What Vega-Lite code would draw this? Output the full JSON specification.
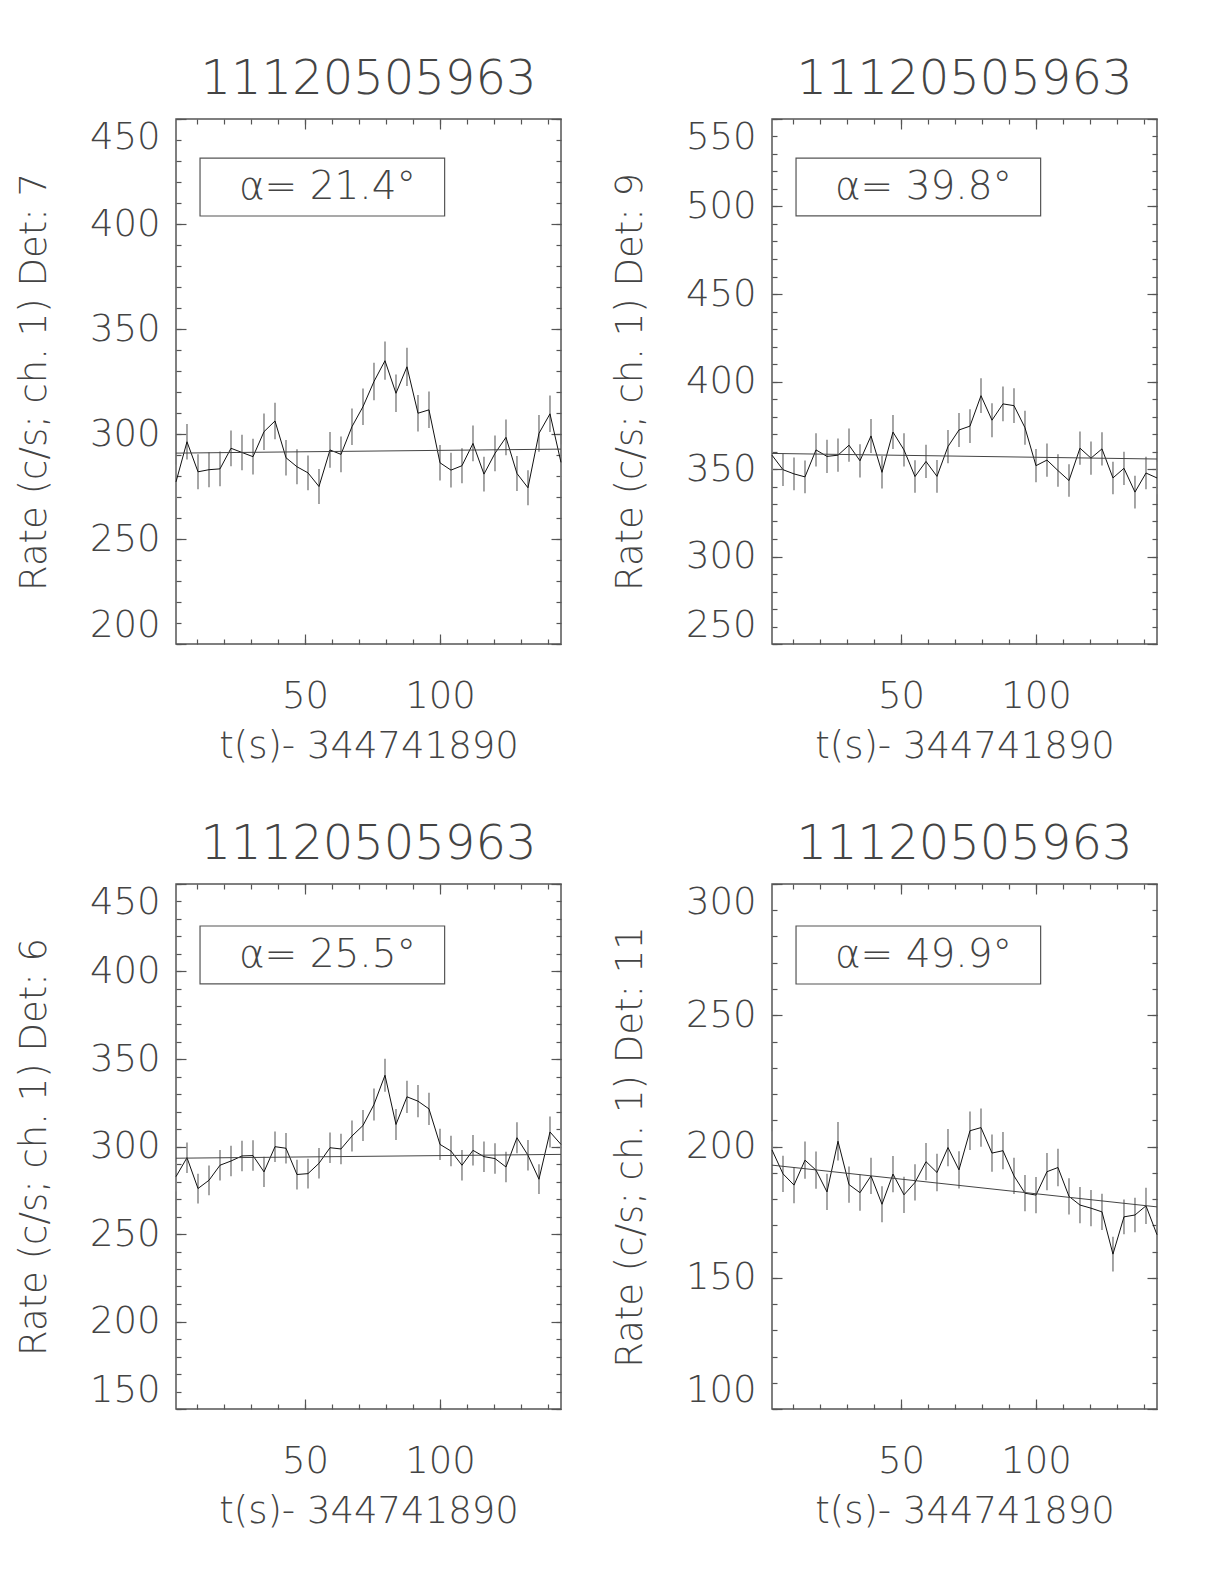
{
"$schema": "https://vega.github.io/schema/vega-lite/v6.json",
"padding": {"left": 14, "top": 55, "right": 10, "bottom": 10},
"background": "white",
"columns": 2,
"spacing": {"row": 240, "column": 211},
"bounds": "flush",
"datasets": {
"d1": [{"t":2.2,"r":277.2,"e":8.3},{"t":6.27,"r":296.3,"e":8.5},{"t":10.35,"r":282.0,"e":8.3},{"t":14.42,"r":283.0,"e":8.3},{"t":18.5,"r":283.4,"e":8.3},{"t":22.57,"r":293.2,"e":8.5},{"t":26.64,"r":291.2,"e":8.5},{"t":30.72,"r":289.2,"e":8.5},{"t":34.79,"r":301.1,"e":8.7},{"t":38.87,"r":306.2,"e":8.7},{"t":42.94,"r":288.7,"e":8.5},{"t":47.01,"r":284.4,"e":8.3},{"t":51.09,"r":281.5,"e":8.3},{"t":55.16,"r":275.0,"e":8.3},{"t":59.24,"r":292.4,"e":8.5},{"t":63.31,"r":290.3,"e":8.5},{"t":67.38,"r":303.5,"e":8.7},{"t":71.46,"r":313.0,"e":8.7},{"t":75.53,"r":325.0,"e":8.9},{"t":79.61,"r":334.9,"e":9.1},{"t":83.68,"r":319.4,"e":8.9},{"t":87.75,"r":332.0,"e":9.1},{"t":91.83,"r":309.9,"e":8.7},{"t":95.9,"r":311.5,"e":8.7},{"t":99.98,"r":286.3,"e":8.5},{"t":104.05,"r":282.8,"e":8.3},{"t":108.12,"r":284.9,"e":8.3},{"t":112.2,"r":295.5,"e":8.5},{"t":116.27,"r":280.9,"e":8.3},{"t":120.35,"r":290.8,"e":8.5},{"t":124.42,"r":298.4,"e":8.5},{"t":128.49,"r":281.2,"e":8.3},{"t":132.57,"r":274.4,"e":8.3},{"t":136.64,"r":300.3,"e":8.7},{"t":140.72,"r":309.6,"e":8.7},{"t":144.79,"r":286.5,"e":8.5}],
"d2": [{"t":2.2,"r":357.9,"e":9.5},{"t":6.27,"r":349.6,"e":9.3},{"t":10.35,"r":347.2,"e":9.3},{"t":14.42,"r":345.5,"e":9.3},{"t":18.5,"r":360.9,"e":9.5},{"t":22.57,"r":357.2,"e":9.5},{"t":26.64,"r":357.9,"e":9.5},{"t":30.72,"r":363.6,"e":9.5},{"t":34.79,"r":354.7,"e":9.5},{"t":38.87,"r":368.9,"e":9.7},{"t":42.94,"r":348.1,"e":9.3},{"t":47.01,"r":371.1,"e":9.7},{"t":51.09,"r":360.9,"e":9.5},{"t":55.16,"r":345.7,"e":9.3},{"t":59.24,"r":354.3,"e":9.5},{"t":63.31,"r":345.8,"e":9.3},{"t":67.38,"r":362.8,"e":9.5},{"t":71.46,"r":372.3,"e":9.7},{"t":75.53,"r":374.5,"e":9.7},{"t":79.61,"r":391.9,"e":9.9},{"t":83.68,"r":377.9,"e":9.7},{"t":87.75,"r":387.2,"e":9.9},{"t":91.83,"r":386.2,"e":9.9},{"t":95.9,"r":373.6,"e":9.7},{"t":99.98,"r":351.9,"e":9.5},{"t":104.05,"r":355.1,"e":9.5},{"t":108.12,"r":349.1,"e":9.3},{"t":112.2,"r":343.4,"e":9.3},{"t":116.27,"r":361.9,"e":9.5},{"t":120.35,"r":356.2,"e":9.5},{"t":124.42,"r":361.5,"e":9.5},{"t":128.49,"r":344.9,"e":9.3},{"t":132.57,"r":350.4,"e":9.5},{"t":136.64,"r":336.8,"e":9.3},{"t":140.72,"r":347.7,"e":9.3},{"t":144.79,"r":344.9,"e":9.3}],
"d3": [{"t":2.2,"r":282.8,"e":8.5},{"t":6.27,"r":293.6,"e":8.7},{"t":10.35,"r":276.0,"e":8.5},{"t":14.42,"r":280.7,"e":8.5},{"t":18.5,"r":289.3,"e":8.7},{"t":22.57,"r":291.7,"e":8.7},{"t":26.64,"r":294.6,"e":8.7},{"t":30.72,"r":294.8,"e":8.7},{"t":34.79,"r":285.5,"e":8.7},{"t":38.87,"r":299.9,"e":8.7},{"t":42.94,"r":299.0,"e":8.7},{"t":47.01,"r":284.0,"e":8.5},{"t":51.09,"r":284.5,"e":8.5},{"t":55.16,"r":290.4,"e":8.7},{"t":59.24,"r":299.3,"e":8.7},{"t":63.31,"r":298.6,"e":8.7},{"t":67.38,"r":306.0,"e":8.9},{"t":71.46,"r":312.0,"e":8.9},{"t":75.53,"r":324.0,"e":9.2},{"t":79.61,"r":340.7,"e":9.4},{"t":83.68,"r":312.6,"e":8.9},{"t":87.75,"r":328.4,"e":9.2},{"t":91.83,"r":325.9,"e":9.2},{"t":95.9,"r":321.5,"e":9.2},{"t":99.98,"r":301.2,"e":8.9},{"t":104.05,"r":297.4,"e":8.7},{"t":108.12,"r":289.3,"e":8.7},{"t":112.2,"r":297.8,"e":8.7},{"t":116.27,"r":294.2,"e":8.7},{"t":120.35,"r":293.1,"e":8.7},{"t":124.42,"r":288.3,"e":8.7},{"t":128.49,"r":305.0,"e":8.9},{"t":132.57,"r":295.0,"e":8.7},{"t":136.64,"r":281.3,"e":8.5},{"t":140.72,"r":308.3,"e":8.9},{"t":144.79,"r":301.2,"e":8.9}],
"d4": [{"t":2.2,"r":198.7,"e":7.1},{"t":6.27,"r":189.6,"e":6.9},{"t":10.35,"r":185.3,"e":6.9},{"t":14.42,"r":194.8,"e":7.1},{"t":18.5,"r":191.0,"e":7.1},{"t":22.57,"r":182.7,"e":6.9},{"t":26.64,"r":202.0,"e":7.3},{"t":30.72,"r":185.5,"e":6.9},{"t":34.79,"r":182.4,"e":6.9},{"t":38.87,"r":188.8,"e":6.9},{"t":42.94,"r":178.0,"e":6.9},{"t":47.01,"r":189.5,"e":6.9},{"t":51.09,"r":181.6,"e":6.9},{"t":55.16,"r":186.3,"e":6.9},{"t":59.24,"r":194.2,"e":7.1},{"t":63.31,"r":190.1,"e":7.1},{"t":67.38,"r":199.6,"e":7.1},{"t":71.46,"r":191.1,"e":7.1},{"t":75.53,"r":206.0,"e":7.3},{"t":79.61,"r":207.2,"e":7.3},{"t":83.68,"r":197.5,"e":7.1},{"t":87.75,"r":198.4,"e":7.1},{"t":91.83,"r":188.8,"e":6.9},{"t":95.9,"r":182.2,"e":6.9},{"t":99.98,"r":181.5,"e":6.9},{"t":104.05,"r":190.4,"e":7.1},{"t":108.12,"r":192.0,"e":7.1},{"t":112.2,"r":181.0,"e":6.9},{"t":116.27,"r":177.7,"e":6.9},{"t":120.35,"r":176.5,"e":6.9},{"t":124.42,"r":175.1,"e":6.9},{"t":128.49,"r":159.0,"e":6.6},{"t":132.57,"r":173.2,"e":6.6},{"t":136.64,"r":173.9,"e":6.6},{"t":140.72,"r":177.4,"e":6.9},{"t":144.79,"r":166.4,"e":6.6}],
"f1": [{"t":2.2,"r":290.9},{"t":144.8,"r":292.8}],
"f2": [{"t":2.2,"r":358.9},{"t":144.8,"r":355.7}],
"f3": [{"t":2.2,"r":293.3},{"t":144.8,"r":295.5}],
"f4": [{"t":2.2,"r":192.9},{"t":144.8,"r":177.0}],
"a1": [{"label":"α= 21.4°"}],
"a2": [{"label":"α= 39.8°"}],
"a3": [{"label":"α= 25.5°"}],
"a4": [{"label":"α= 49.9°"}]
},
"concat": [
{
"width": 385, "height": 525,
"title": "11120505963",
"resolve": {"axis": {"x": "independent", "y": "independent"}},
"layer": [
{"data": {"name": "d1"}, "mark": {"type": "errorbar", "color": "#888", "thickness": 1.5},
 "encoding": {"x": {"field": "t", "type": "quantitative", "scale": {"domain": [2.2, 144.8], "nice": false, "zero": false}, "axis": null},
  "y": {"field": "r", "type": "quantitative", "scale": {"domain": [200, 450], "nice": false, "zero": false}, "axis": null},
  "yError": {"field": "e"}}},
{"data": {"name": "d1"}, "mark": {"type": "line", "color": "#111", "strokeWidth": 1},
 "encoding": {"x": {"field": "t", "type": "quantitative", "scale": {"domain": [2.2, 144.8], "nice": false, "zero": false}, "axis": {"orient": "bottom", "values": [50, 100], "tickSize": -10, "labelPadding": 44, "title": "t(s)- 344741890", "titlePadding": 14}},
  "y": {"field": "r", "type": "quantitative", "scale": {"domain": [200, 450], "nice": false, "zero": false}, "axis": {"orient": "left", "values": [200, 250, 300, 350, 400, 450], "tickSize": -10, "labelPadding": 26, "labelFlush": true, "title": "Rate (c/s; ch. 1) Det: 7", "titlePadding": 36}}}},
{"data": {"name": "f1"}, "mark": {"type": "line", "color": "#444", "strokeWidth": 1},
 "encoding": {"x": {"field": "t", "type": "quantitative", "scale": {"domain": [2.2, 144.8], "nice": false, "zero": false}, "axis": {"orient": "top", "values": [50, 100], "tickSize": -10, "labels": false, "title": null}},
  "y": {"field": "r", "type": "quantitative", "scale": {"domain": [200, 450], "nice": false, "zero": false}, "axis": {"orient": "right", "values": [200, 250, 300, 350, 400, 450], "tickSize": -10, "labels": false, "title": null}}}},
{"data": {"name": "a1"}, "mark": {"type": "rect", "filled": false, "stroke": "#555", "strokeWidth": 1.2},
 "encoding": {"x": {"datum": 11.1, "type": "quantitative", "scale": {"domain": [2.2, 144.8], "nice": false, "zero": false}, "axis": {"orient": "bottom", "values": [10,20,30,40,50,60,70,80,90,100,110,120,130,140], "tickSize": -5, "labels": false, "title": null}},
  "x2": {"datum": 101.7},
  "y": {"datum": 403.8, "type": "quantitative", "scale": {"domain": [200, 450], "nice": false, "zero": false}, "axis": {"orient": "left", "values": [200,210,220,230,240,250,260,270,280,290,300,310,320,330,340,350,360,370,380,390,400,410,420,430,440,450], "tickSize": -5, "labels": false, "title": null}},
  "y2": {"datum": 431.4}}},
{"data": {"name": "a1"}, "mark": {"type": "text", "fontSize": 39, "font": "DejaVu Sans", "fontWeight": 200, "color": "#444", "align": "center", "baseline": "middle"},
 "encoding": {"x": {"datum": 58.3, "type": "quantitative", "scale": {"domain": [2.2, 144.8], "nice": false, "zero": false}, "axis": {"orient": "top", "values": [10,20,30,40,50,60,70,80,90,100,110,120,130,140], "tickSize": -5, "labels": false, "title": null}},
  "y": {"datum": 417.6, "type": "quantitative", "scale": {"domain": [200, 450], "nice": false, "zero": false}, "axis": {"orient": "right", "values": [200,210,220,230,240,250,260,270,280,290,300,310,320,330,340,350,360,370,380,390,400,410,420,430,440,450], "tickSize": -5, "labels": false, "title": null}},
  "text": {"field": "label"}}}
]
},
{
"width": 385, "height": 525,
"title": "11120505963",
"resolve": {"axis": {"x": "independent", "y": "independent"}},
"layer": [
{"data": {"name": "d2"}, "mark": {"type": "errorbar", "color": "#888", "thickness": 1.5},
 "encoding": {"x": {"field": "t", "type": "quantitative", "scale": {"domain": [2.2, 144.8], "nice": false, "zero": false}, "axis": null},
  "y": {"field": "r", "type": "quantitative", "scale": {"domain": [250, 550], "nice": false, "zero": false}, "axis": null},
  "yError": {"field": "e"}}},
{"data": {"name": "d2"}, "mark": {"type": "line", "color": "#111", "strokeWidth": 1},
 "encoding": {"x": {"field": "t", "type": "quantitative", "scale": {"domain": [2.2, 144.8], "nice": false, "zero": false}, "axis": {"orient": "bottom", "values": [50, 100], "tickSize": -10, "labelPadding": 44, "title": "t(s)- 344741890", "titlePadding": 14}},
  "y": {"field": "r", "type": "quantitative", "scale": {"domain": [250, 550], "nice": false, "zero": false}, "axis": {"orient": "left", "values": [250, 300, 350, 400, 450, 500, 550], "tickSize": -10, "labelPadding": 26, "labelFlush": true, "title": "Rate (c/s; ch. 1) Det: 9", "titlePadding": 36}}}},
{"data": {"name": "f2"}, "mark": {"type": "line", "color": "#444", "strokeWidth": 1},
 "encoding": {"x": {"field": "t", "type": "quantitative", "scale": {"domain": [2.2, 144.8], "nice": false, "zero": false}, "axis": {"orient": "top", "values": [50, 100], "tickSize": -10, "labels": false, "title": null}},
  "y": {"field": "r", "type": "quantitative", "scale": {"domain": [250, 550], "nice": false, "zero": false}, "axis": {"orient": "right", "values": [250, 300, 350, 400, 450, 500, 550], "tickSize": -10, "labels": false, "title": null}}}},
{"data": {"name": "a2"}, "mark": {"type": "rect", "filled": false, "stroke": "#555", "strokeWidth": 1.2},
 "encoding": {"x": {"datum": 11.1, "type": "quantitative", "scale": {"domain": [2.2, 144.8], "nice": false, "zero": false}, "axis": {"orient": "bottom", "values": [10,20,30,40,50,60,70,80,90,100,110,120,130,140], "tickSize": -5, "labels": false, "title": null}},
  "x2": {"datum": 101.7},
  "y": {"datum": 494.6, "type": "quantitative", "scale": {"domain": [250, 550], "nice": false, "zero": false}, "axis": {"orient": "left", "values": [250,260,270,280,290,300,310,320,330,340,350,360,370,380,390,400,410,420,430,440,450,460,470,480,490,500,510,520,530,540,550], "tickSize": -5, "labels": false, "title": null}},
  "y2": {"datum": 527.7}}},
{"data": {"name": "a2"}, "mark": {"type": "text", "fontSize": 39, "font": "DejaVu Sans", "fontWeight": 200, "color": "#444", "align": "center", "baseline": "middle"},
 "encoding": {"x": {"datum": 58.3, "type": "quantitative", "scale": {"domain": [2.2, 144.8], "nice": false, "zero": false}, "axis": {"orient": "top", "values": [10,20,30,40,50,60,70,80,90,100,110,120,130,140], "tickSize": -5, "labels": false, "title": null}},
  "y": {"datum": 511.2, "type": "quantitative", "scale": {"domain": [250, 550], "nice": false, "zero": false}, "axis": {"orient": "right", "values": [250,260,270,280,290,300,310,320,330,340,350,360,370,380,390,400,410,420,430,440,450,460,470,480,490,500,510,520,530,540,550], "tickSize": -5, "labels": false, "title": null}},
  "text": {"field": "label"}}}
]
},
{
"width": 385, "height": 525,
"title": "11120505963",
"resolve": {"axis": {"x": "independent", "y": "independent"}},
"layer": [
{"data": {"name": "d3"}, "mark": {"type": "errorbar", "color": "#888", "thickness": 1.5},
 "encoding": {"x": {"field": "t", "type": "quantitative", "scale": {"domain": [2.2, 144.8], "nice": false, "zero": false}, "axis": null},
  "y": {"field": "r", "type": "quantitative", "scale": {"domain": [150, 450], "nice": false, "zero": false}, "axis": null},
  "yError": {"field": "e"}}},
{"data": {"name": "d3"}, "mark": {"type": "line", "color": "#111", "strokeWidth": 1},
 "encoding": {"x": {"field": "t", "type": "quantitative", "scale": {"domain": [2.2, 144.8], "nice": false, "zero": false}, "axis": {"orient": "bottom", "values": [50, 100], "tickSize": -10, "labelPadding": 44, "title": "t(s)- 344741890", "titlePadding": 14}},
  "y": {"field": "r", "type": "quantitative", "scale": {"domain": [150, 450], "nice": false, "zero": false}, "axis": {"orient": "left", "values": [150, 200, 250, 300, 350, 400, 450], "tickSize": -10, "labelPadding": 26, "labelFlush": true, "title": "Rate (c/s; ch. 1) Det: 6", "titlePadding": 36}}}},
{"data": {"name": "f3"}, "mark": {"type": "line", "color": "#444", "strokeWidth": 1},
 "encoding": {"x": {"field": "t", "type": "quantitative", "scale": {"domain": [2.2, 144.8], "nice": false, "zero": false}, "axis": {"orient": "top", "values": [50, 100], "tickSize": -10, "labels": false, "title": null}},
  "y": {"field": "r", "type": "quantitative", "scale": {"domain": [150, 450], "nice": false, "zero": false}, "axis": {"orient": "right", "values": [150, 200, 250, 300, 350, 400, 450], "tickSize": -10, "labels": false, "title": null}}}},
{"data": {"name": "a3"}, "mark": {"type": "rect", "filled": false, "stroke": "#555", "strokeWidth": 1.2},
 "encoding": {"x": {"datum": 11.1, "type": "quantitative", "scale": {"domain": [2.2, 144.8], "nice": false, "zero": false}, "axis": {"orient": "bottom", "values": [10,20,30,40,50,60,70,80,90,100,110,120,130,140], "tickSize": -5, "labels": false, "title": null}},
  "x2": {"datum": 101.7},
  "y": {"datum": 392.9, "type": "quantitative", "scale": {"domain": [150, 450], "nice": false, "zero": false}, "axis": {"orient": "left", "values": [150,160,170,180,190,200,210,220,230,240,250,260,270,280,290,300,310,320,330,340,350,360,370,380,390,400,410,420,430,440,450], "tickSize": -5, "labels": false, "title": null}},
  "y2": {"datum": 426.0}}},
{"data": {"name": "a3"}, "mark": {"type": "text", "fontSize": 39, "font": "DejaVu Sans", "fontWeight": 200, "color": "#444", "align": "center", "baseline": "middle"},
 "encoding": {"x": {"datum": 58.3, "type": "quantitative", "scale": {"domain": [2.2, 144.8], "nice": false, "zero": false}, "axis": {"orient": "top", "values": [10,20,30,40,50,60,70,80,90,100,110,120,130,140], "tickSize": -5, "labels": false, "title": null}},
  "y": {"datum": 409.5, "type": "quantitative", "scale": {"domain": [150, 450], "nice": false, "zero": false}, "axis": {"orient": "right", "values": [150,160,170,180,190,200,210,220,230,240,250,260,270,280,290,300,310,320,330,340,350,360,370,380,390,400,410,420,430,440,450], "tickSize": -5, "labels": false, "title": null}},
  "text": {"field": "label"}}}
]
},
{
"width": 385, "height": 525,
"title": "11120505963",
"resolve": {"axis": {"x": "independent", "y": "independent"}},
"layer": [
{"data": {"name": "d4"}, "mark": {"type": "errorbar", "color": "#888", "thickness": 1.5},
 "encoding": {"x": {"field": "t", "type": "quantitative", "scale": {"domain": [2.2, 144.8], "nice": false, "zero": false}, "axis": null},
  "y": {"field": "r", "type": "quantitative", "scale": {"domain": [100, 300], "nice": false, "zero": false}, "axis": null},
  "yError": {"field": "e"}}},
{"data": {"name": "d4"}, "mark": {"type": "line", "color": "#111", "strokeWidth": 1},
 "encoding": {"x": {"field": "t", "type": "quantitative", "scale": {"domain": [2.2, 144.8], "nice": false, "zero": false}, "axis": {"orient": "bottom", "values": [50, 100], "tickSize": -10, "labelPadding": 44, "title": "t(s)- 344741890", "titlePadding": 14}},
  "y": {"field": "r", "type": "quantitative", "scale": {"domain": [100, 300], "nice": false, "zero": false}, "axis": {"orient": "left", "values": [100, 150, 200, 250, 300], "tickSize": -10, "labelPadding": 26, "labelFlush": true, "title": "Rate (c/s; ch. 1) Det: 11", "titlePadding": 36}}}},
{"data": {"name": "f4"}, "mark": {"type": "line", "color": "#444", "strokeWidth": 1},
 "encoding": {"x": {"field": "t", "type": "quantitative", "scale": {"domain": [2.2, 144.8], "nice": false, "zero": false}, "axis": {"orient": "top", "values": [50, 100], "tickSize": -10, "labels": false, "title": null}},
  "y": {"field": "r", "type": "quantitative", "scale": {"domain": [100, 300], "nice": false, "zero": false}, "axis": {"orient": "right", "values": [100, 150, 200, 250, 300], "tickSize": -10, "labels": false, "title": null}}}},
{"data": {"name": "a4"}, "mark": {"type": "rect", "filled": false, "stroke": "#555", "strokeWidth": 1.2},
 "encoding": {"x": {"datum": 11.1, "type": "quantitative", "scale": {"domain": [2.2, 144.8], "nice": false, "zero": false}, "axis": {"orient": "bottom", "values": [10,20,30,40,50,60,70,80,90,100,110,120,130,140], "tickSize": -5, "labels": false, "title": null}},
  "x2": {"datum": 101.7},
  "y": {"datum": 261.9, "type": "quantitative", "scale": {"domain": [100, 300], "nice": false, "zero": false}, "axis": {"orient": "left", "values": [100,110,120,130,140,150,160,170,180,190,200,210,220,230,240,250,260,270,280,290,300], "tickSize": -5, "labels": false, "title": null}},
  "y2": {"datum": 284.0}}},
{"data": {"name": "a4"}, "mark": {"type": "text", "fontSize": 39, "font": "DejaVu Sans", "fontWeight": 200, "color": "#444", "align": "center", "baseline": "middle"},
 "encoding": {"x": {"datum": 58.3, "type": "quantitative", "scale": {"domain": [2.2, 144.8], "nice": false, "zero": false}, "axis": {"orient": "top", "values": [10,20,30,40,50,60,70,80,90,100,110,120,130,140], "tickSize": -5, "labels": false, "title": null}},
  "y": {"datum": 273.0, "type": "quantitative", "scale": {"domain": [100, 300], "nice": false, "zero": false}, "axis": {"orient": "right", "values": [100,110,120,130,140,150,160,170,180,190,200,210,220,230,240,250,260,270,280,290,300], "tickSize": -5, "labels": false, "title": null}},
  "text": {"field": "label"}}}
]
}
],
"config": {
"font": "DejaVu Sans",
"view": {"stroke": "#555", "strokeWidth": 1.5},
"axis": {"grid": false, "domain": false, "tickColor": "#555", "tickWidth": 1.2, "labelFont": "DejaVu Sans", "labelFontSize": 37, "labelFontWeight": 200, "labelColor": "#444", "titleFont": "DejaVu Sans", "titleFontSize": 37, "titleFontWeight": 200, "titleColor": "#444"},
"title": {"font": "DejaVu Sans", "fontSize": 48, "fontWeight": 200, "color": "#444", "offset": 14, "anchor": "middle"}
}
}
